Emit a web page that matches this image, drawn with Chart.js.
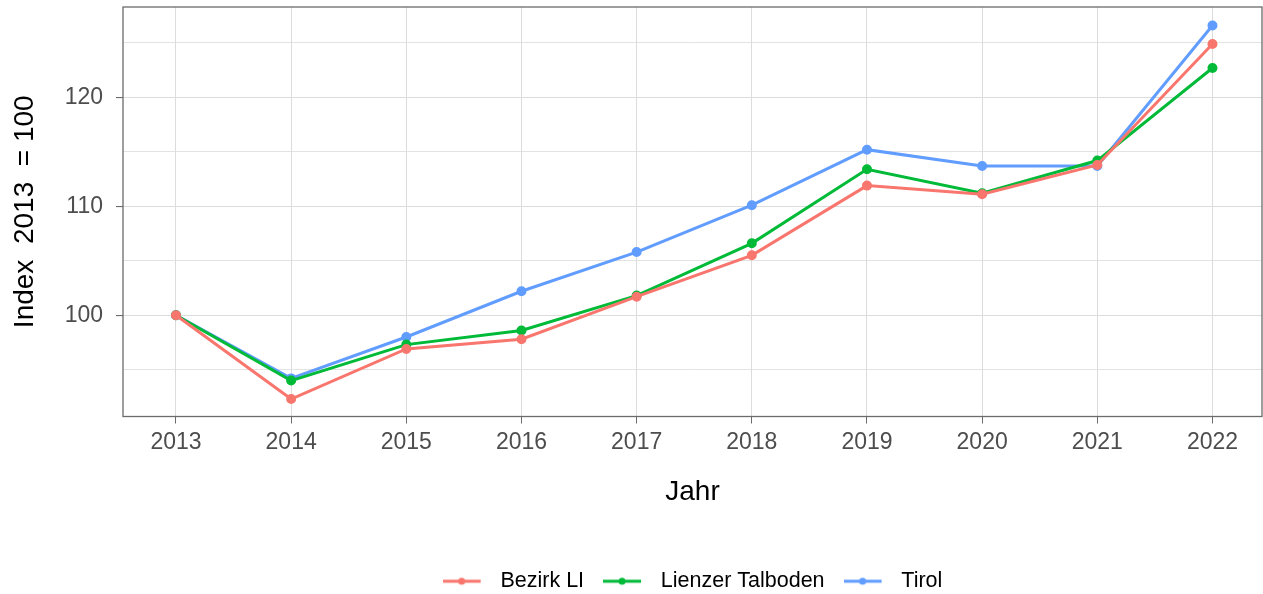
<!DOCTYPE html>
<html>
<head>
<meta charset="utf-8">
<script src="https://cdn.jsdelivr.net/npm/chart.js@4"></script>
<style>
  html, body { margin: 0; padding: 0; background: #fff; }
  #wrap { width: 1263px; height: 594px; position: relative; }
</style>
</head>
<body>
<div id="wrap"><canvas id="chart"></canvas></div>
<script>
/* ===========================
   DATA
=========================== */

const years = [2013, 2014, 2015, 2016, 2017, 2018, 2019, 2020, 2021, 2022];

const bezirkLI = [100, 92.3, 96.9, 97.8, 101.7, 105.5, 111.9, 111.1, 113.8, 124.9];
const lienzerTalboden = [100, 94.0, 97.3, 98.6, 101.8, 106.6, 113.4, 111.2, 114.2, 122.7];
const tirol = [100, 94.2, 98.0, 102.2, 105.8, 110.1, 115.2, 113.7, 113.7, 126.6];

const seriesNames = ["Bezirk LI", "Lienzer Talboden", "Tirol"];
const seriesColors = ["#F8766D", "#00BA38", "#619CFF"];

const yGridTicks = [95, 100, 105, 110, 115, 120, 125];
const yLabelTicks = [100, 110, 120];

const FONT = "'Liberation Sans', Arial, sans-serif";

/* ===========================
   HELPERS
=========================== */

// legend key: short line with a dot, left aligned in a 47px box
function legendSymbol(color) {
    const c = document.createElement("canvas");
    c.width = 47;
    c.height = 12;
    const g = c.getContext("2d");
    g.strokeStyle = color;
    g.lineWidth = 3;
    g.beginPath();
    g.moveTo(0, 6);
    g.lineTo(38, 6);
    g.stroke();
    g.fillStyle = color;
    g.beginPath();
    g.arc(19, 6, 3.5, 0, Math.PI * 2);
    g.fill();
    return c;
}

function toPoints(values) {
    return years.map((y, i) => ({ x: y, y: values[i] }));
}

const panelBorder = {
    id: "panelBorder",
    afterDraw(chart) {
        const { ctx, chartArea } = chart;
        ctx.save();
        ctx.strokeStyle = "#6b6b6b";
        ctx.lineWidth = 1.3;
        ctx.strokeRect(chartArea.left, chartArea.top,
            chartArea.right - chartArea.left, chartArea.bottom - chartArea.top);
        ctx.restore();
    }
};

/* ===========================
   CHART
=========================== */

const allSeries = [bezirkLI, lienzerTalboden, tirol];

const datasets = allSeries.map((values, i) => ({
    label: seriesNames[i],
    data: toPoints(values),
    borderColor: seriesColors[i],
    backgroundColor: seriesColors[i],
    borderWidth: 3,
    pointRadius: 3.5,
    pointHoverRadius: 3.5,
    pointStyle: "circle",
    tension: 0,
    legendSymbol: legendSymbol(seriesColors[i])
}));

new Chart(document.getElementById("chart"), {
    type: "line",
    data: { datasets: datasets },
    plugins: [panelBorder],
    options: {
        responsive: true,
        maintainAspectRatio: false,
        animation: false,
        layout: {
            autoPadding: false,
            padding: { top: 7, right: 1, left: 0, bottom: -8 }
        },
        plugins: {
            tooltip: { enabled: false },
            legend: {
                position: "bottom",
                fullSize: false,
                labels: {
                    color: "#000",
                    font: { size: 21.5, family: FONT },
                    usePointStyle: true,
                    pointStyleWidth: 47,
                    padding: 19,
                    generateLabels(chart) {
                        return chart.data.datasets.map((ds, i) => ({
                            text: ds.label,
                            pointStyle: ds.legendSymbol,
                            fillStyle: ds.borderColor,
                            strokeStyle: ds.borderColor,
                            lineWidth: 0,
                            hidden: false,
                            datasetIndex: i,
                            fontColor: "#000"
                        }));
                    }
                }
            }
        },
        scales: {
            x: {
                type: "linear",
                min: 2012.54,
                max: 2022.43,
                afterBuildTicks(scale) {
                    scale.ticks = years.map(v => ({ value: v }));
                },
                afterFit(scale) {
                    scale.height = 135;
                    scale.paddingLeft = 0;
                    scale.paddingRight = 0;
                },
                ticks: {
                    color: "#4d4d4d",
                    font: { size: 23, family: FONT },
                    padding: 5,
                    maxRotation: 0,
                    autoSkip: false,
                    callback: v => String(v)
                },
                grid: {
                    color: "#dcdcdc",
                    lineWidth: 1,
                    tickLength: 7,
                    tickColor: "#6b6b6b"
                },
                border: { display: false },
                title: {
                    display: true,
                    text: "Jahr",
                    color: "#000",
                    font: { size: 28, family: FONT },
                    padding: { top: 0, bottom: 42 }
                }
            },
            y: {
                type: "linear",
                min: 90.7,
                max: 128.3,
                afterBuildTicks(scale) {
                    scale.ticks = yGridTicks.map(v => ({ value: v }));
                },
                afterFit(scale) {
                    scale.width = 123;
                    scale.paddingTop = 0;
                    scale.paddingBottom = 0;
                },
                ticks: {
                    color: "#4d4d4d",
                    font: { size: 23, family: FONT },
                    padding: 13,
                    callback: v => (yLabelTicks.includes(v) ? String(v) : "")
                },
                grid: {
                    color: "#dcdcdc",
                    lineWidth: ctx => (ctx.tick && yLabelTicks.includes(ctx.tick.value) ? 1.1 : 0.8),
                    tickLength: 7,
                    tickColor: ctx => (ctx.tick && yLabelTicks.includes(ctx.tick.value) ? "#6b6b6b" : "rgba(0,0,0,0)")
                },
                border: { display: false },
                title: {
                    display: true,
                    text: "Index  2013  = 100",
                    color: "#000",
                    font: { size: 28, family: FONT },
                    padding: { top: 8, bottom: 0 }
                }
            }
        }
    }
});
</script>
</body>
</html>
